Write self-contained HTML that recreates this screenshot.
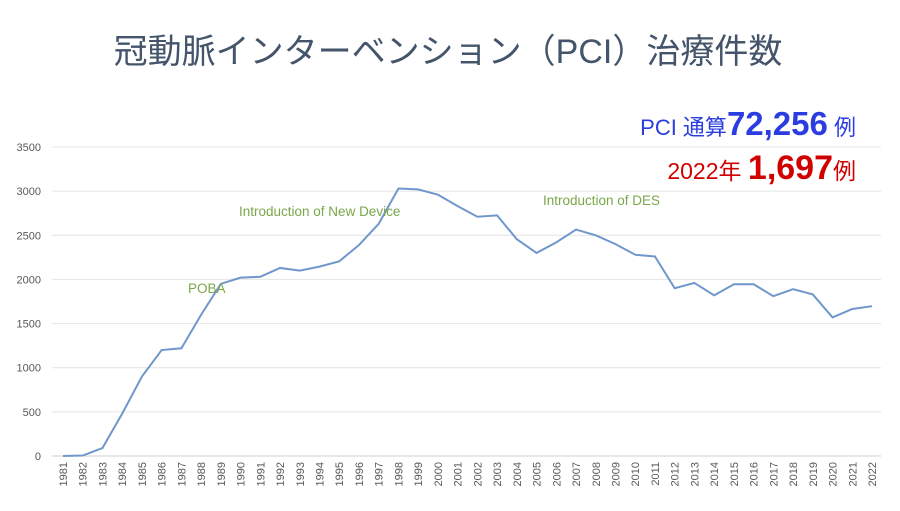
<!DOCTYPE html>
<html><head><meta charset="utf-8"><style>
body{margin:0;width:900px;height:506px;background:#fff;overflow:hidden;font-family:"Liberation Sans","Noto Sans CJK JP",sans-serif}
</style></head><body>
<svg width="900" height="506">
<text x="448" y="63" text-anchor="middle" font-size="34" fill="#44546a" font-family="'Liberation Sans','Noto Sans CJK JP',sans-serif">冠動脈インターベンション（PCI）治療件数</text>
<text x="856" y="135" text-anchor="end" fill="#2b3de0" font-family="'Liberation Sans','Noto Sans CJK JP',sans-serif"><tspan font-size="22">PCI  通算</tspan><tspan font-size="33" font-weight="bold">72,256</tspan><tspan font-size="22"> 例</tspan></text>
<text x="856" y="179" text-anchor="end" fill="#d00000" font-family="'Liberation Sans','Noto Sans CJK JP',sans-serif"><tspan font-size="23">2022年  </tspan><tspan font-size="34" font-weight="bold">1,697</tspan><tspan font-size="23">例</tspan></text>
<g id="grid"></g><g id="yl"></g><g id="xl"></g>
<polyline id="line" fill="none" stroke="#7097cc" stroke-width="2"/>
<text x="239" y="216" font-size="13.5" fill="#7aa74a">Introduction of New Device</text>
<text x="188" y="293" font-size="13.5" fill="#7aa74a">POBA</text>
<text x="543" y="205" font-size="13.5" fill="#7aa74a">Introduction of DES</text>
</svg>
<script>
const years=[];for(let y=1981;y<=2022;y++)years.push(String(y));
const values=[0,5,90,480,900,1200,1220,1600,1950,2020,2030,2130,2100,2145,2205,2390,2630,3030,3020,2960,2830,2710,2725,2455,2300,2420,2565,2500,2400,2280,2260,1900,1960,1820,1945,1945,1810,1890,1830,1570,1665,1697];
const yTicks=[0,500,1000,1500,2000,2500,3000,3500];
const NS='http://www.w3.org/2000/svg';
const x0=63,x1=872,yb=456,yt=147,ymax=3500;
const X=i=>x0+(x1-x0)*i/(years.length-1);
const Y=v=>yb-(yb-yt)*v/ymax;
const grid=document.getElementById('grid'),yl=document.getElementById('yl'),xl=document.getElementById('xl');
yTicks.forEach(t=>{
 const l=document.createElementNS(NS,'line');
 l.setAttribute('x1',52);l.setAttribute('x2',881);l.setAttribute('y1',Y(t));l.setAttribute('y2',Y(t));
 l.setAttribute('stroke',t===0?'#d0d0d0':'#e4e4e4');l.setAttribute('stroke-width',1);
 
 
 grid.appendChild(l);
 const s=document.createElementNS(NS,'text');
 s.setAttribute('x',41);s.setAttribute('y',Y(t)+4);s.setAttribute('text-anchor','end');s.setAttribute('font-size','11');s.setAttribute('fill','#595959');
 s.textContent=t;
 
 
 yl.appendChild(s);
});
years.forEach((yr,i)=>{
 const s=document.createElementNS(NS,'text');
 const x=X(i)+4,y=462;
 s.setAttribute('transform','translate('+x+','+y+') rotate(-90)');
 s.setAttribute('text-anchor','end');s.setAttribute('font-size','11');s.setAttribute('fill','#595959');
 s.textContent=yr;
 
 
 xl.appendChild(s);
});
document.getElementById('line').setAttribute('points',values.map((v,i)=>X(i)+','+Y(v)).join(' '));
</script>
</body></html>
